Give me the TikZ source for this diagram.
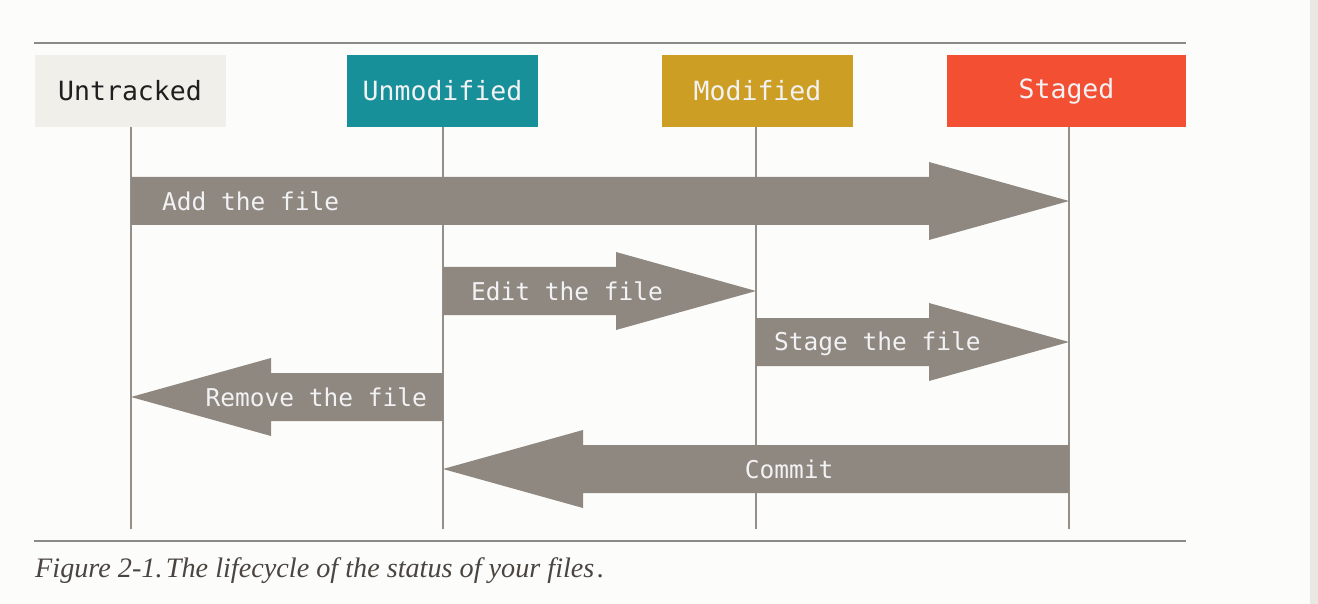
\documentclass[tikz,border=0pt]{standalone}
\usepackage{fontspec}
\setmainfont{Liberation Serif}
\newfontfamily\diagmono{DejaVu Sans Mono}
\usetikzlibrary{calc}

\definecolor{pagebg}{HTML}{FCFCFA}
\definecolor{rulegray}{HTML}{8A8A8A}
\definecolor{lifegray}{HTML}{958F89}
\definecolor{arrowgray}{HTML}{8F8881}
\definecolor{labelwhite}{HTML}{F2F2F4}
\definecolor{untrackedbg}{HTML}{F0EFE9}
\definecolor{unmodifiedbg}{HTML}{17909A}
\definecolor{modifiedbg}{HTML}{CC9E24}
\definecolor{stagedbg}{HTML}{F24F33}
\definecolor{captiongray}{HTML}{4A4540}
\definecolor{stripgray}{HTML}{E9E8E2}

% fat block arrow from #1 to #2; #3 = 1 points right, -1 points left
\newcommand\flowarrow[3]{%
  \fill[arrowgray] ($(#1)+(0,-24)$) -- ($(#2)+({-140*#3},-24)$)
    -- ($(#2)+({-140*#3},-39)$) -- (#2) -- ($(#2)+({-140*#3},39)$)
    -- ($(#2)+({-140*#3},24)$) -- ($(#1)+(0,24)$) -- cycle;}

\begin{document}
\begin{tikzpicture}[x=1pt,y=-1pt,
  statebox/.style={minimum width=191pt, minimum height=72pt, inner sep=0pt,
    font=\diagmono\fontsize{26.5}{26.5}\selectfont},
  lifeline/.style={draw=lifegray, line width=2pt},
  hrule/.style={draw=rulegray, line width=2.2pt},
  flowlabel/.style={text=labelwhite, inner sep=0pt,
    font=\diagmono\fontsize{24.5}{24.5}\selectfont}]

\useasboundingbox (0,0) rectangle (1318,604);
\fill[pagebg] (0,0) rectangle (1318,604);
\fill[stripgray] (1310,0) rectangle (1318,604);

% frame rules
\coordinate (topL) at (34,43);
\coordinate (topR) at (1186,43);
\coordinate (botL) at (34,541);
\coordinate (botR) at (1186,541);
\draw[hrule] (topL) -- (topR);
\draw[hrule] (botL) -- (botR);

% state headers
\node[statebox, fill=untrackedbg, text=black!88] (untracked) at (130,91) {Untracked};
\node[statebox, fill=unmodifiedbg, text=labelwhite] (unmodified) at (442.5,91) {Unmodified};
\node[statebox, fill=modifiedbg, text=labelwhite] (modified) at (757.5,91) {Modified};
\node[statebox, fill=stagedbg, text=labelwhite, minimum width=239pt] (staged) at (1066.5,91) {Staged};

% lifelines
\coordinate (lineU) at (131,127);
\coordinate (lineM0) at (443,127);
\coordinate (lineM1) at (756,127);
\coordinate (lineS) at (1069,127);
\coordinate (bottom) at (0,529);
\foreach \c in {lineU,lineM0,lineM1,lineS}
  \draw[lifeline] (\c) -- (\c |- bottom);

% transition rows
\coordinate (rowAdd) at (0,201);
\coordinate (rowEdit) at (0,291);
\coordinate (rowStage) at (0,342);
\coordinate (rowRemove) at (0,397);
\coordinate (rowCommit) at (0,469);

\coordinate (addA) at (lineU |- rowAdd);
\coordinate (addB) at (lineS |- rowAdd);
\coordinate (editA) at (lineM0 |- rowEdit);
\coordinate (editB) at (lineM1 |- rowEdit);
\coordinate (stageA) at (lineM1 |- rowStage);
\coordinate (stageB) at (lineS |- rowStage);
\coordinate (removeA) at (lineM0 |- rowRemove);
\coordinate (removeB) at (lineU |- rowRemove);
\coordinate (commitA) at (lineS |- rowCommit);
\coordinate (commitB) at (lineM0 |- rowCommit);

\flowarrow{addA}{addB}{1}
\flowarrow{editA}{editB}{1}
\flowarrow{stageA}{stageB}{1}
\flowarrow{removeA}{removeB}{-1}
\flowarrow{commitA}{commitB}{-1}

\node[flowlabel, anchor=west] (addlbl) at ($(addA)+(31,0)$) {Add the file};
\node[flowlabel, anchor=west] (editlbl) at ($(editA)+(28,0)$) {Edit the file};
\node[flowlabel, anchor=west] (stagelbl) at ($(stageA)+(18,2)$) {Stage the file};
\node[flowlabel, anchor=east] (removelbl) at ($(removeA)+(-16,0)$) {Remove the file};
\node[flowlabel] (commitlbl) at (789,469) {Commit};

% caption
\node[anchor=base west, inner sep=0pt, text=captiongray,
  font=\itshape\fontsize{28.2}{28.2}\selectfont] (caption) at (35,577)
  {Figure 2-1.\hspace{0.12em}The lifecycle of the status of your files\hspace{0.1em}.};
\end{tikzpicture}
\end{document}
